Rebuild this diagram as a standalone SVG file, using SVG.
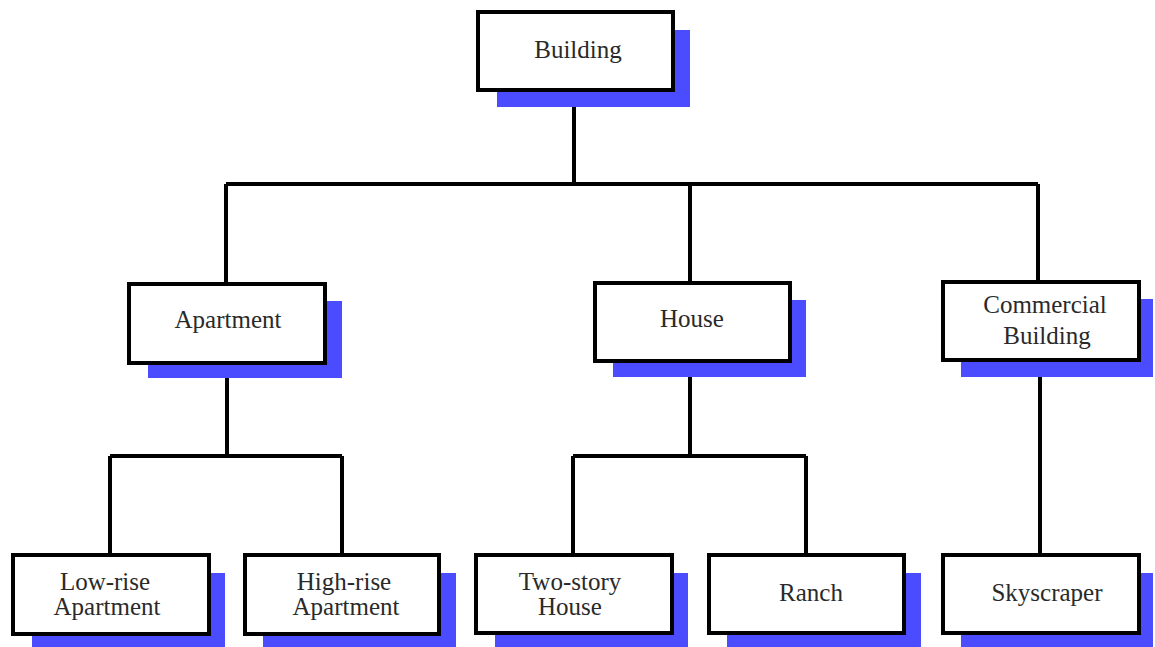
<svg xmlns="http://www.w3.org/2000/svg" width="1155" height="647" viewBox="0 0 1155 647">
<style>
.sh{fill:#4b4bff}
.bx{fill:#fff;stroke:#000;stroke-width:4}
.t{font-family:"Liberation Serif","Times New Roman",serif;font-size:25px;fill:#2a2a2a;text-anchor:middle}
.c{fill:none;stroke:#000;stroke-width:4}
</style>
<rect width="1155" height="647" fill="#fff"/>
<g id="connectors">
<path class="c" d="M574 90V184M226 184H1038M226 184V284M690 184V283M1038 184V282"/>
<path class="c" d="M227 363V456M110 456H342M110 456V555M342 456V555"/>
<path class="c" d="M690 361V456M573 456H806M573 456V555M806 456V555"/>
<path class="c" d="M1040 360V555"/>
</g>
<g id="building">
<rect class="sh" x="497" y="30" width="193" height="77"/>
<rect class="bx" x="478" y="12" width="195" height="78"/>
<text class="t" x="578" y="58">Building</text>
</g>
<g id="apartment">
<rect class="sh" x="148" y="301" width="194" height="77"/>
<rect class="bx" x="129" y="284" width="196" height="79"/>
<text class="t" x="228" y="328">Apartment</text>
</g>
<g id="house">
<rect class="sh" x="613" y="300" width="193" height="77"/>
<rect class="bx" x="595" y="283" width="195" height="78"/>
<text class="t" x="692" y="327">House</text>
</g>
<g id="commercial">
<rect class="sh" x="961" y="299" width="192" height="78"/>
<rect class="bx" x="943" y="282" width="196" height="78"/>
<text class="t" x="1045" y="313">Commercial</text>
<text class="t" x="1047" y="344">Building</text>
</g>
<g id="lowrise">
<rect class="sh" x="32" y="573" width="193" height="80"/>
<rect class="bx" x="13" y="555" width="196" height="79"/>
<text class="t" x="105" y="590">Low-rise</text>
<text class="t" x="107" y="615">Apartment</text>
</g>
<g id="highrise">
<rect class="sh" x="263" y="573" width="193" height="80"/>
<rect class="bx" x="245" y="555" width="194" height="79"/>
<text class="t" x="344" y="590">High-rise</text>
<text class="t" x="346" y="615">Apartment</text>
</g>
<g id="twostory">
<rect class="sh" x="495" y="573" width="193" height="80"/>
<rect class="bx" x="476" y="555" width="196" height="78"/>
<text class="t" x="570" y="590">Two-story</text>
<text class="t" x="570" y="615">House</text>
</g>
<g id="ranch">
<rect class="sh" x="727" y="573" width="194" height="80"/>
<rect class="bx" x="709" y="555" width="195" height="78"/>
<text class="t" x="811" y="601">Ranch</text>
</g>
<g id="skyscraper">
<rect class="sh" x="961" y="573" width="192" height="80"/>
<rect class="bx" x="943" y="555" width="196" height="78"/>
<text class="t" x="1047" y="601">Skyscraper</text>
</g>
</svg>
